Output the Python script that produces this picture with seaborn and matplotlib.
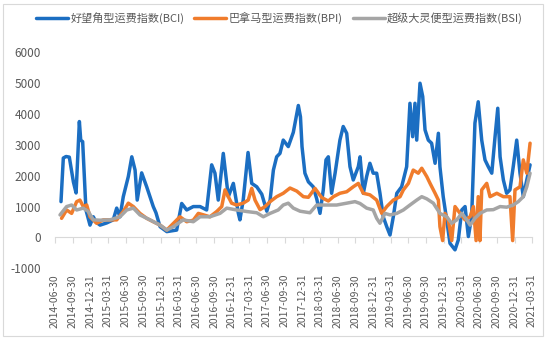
import matplotlib
matplotlib.use("Agg")
import matplotlib.pyplot as plt
import seaborn as sns
import pandas as pd
from matplotlib.patches import Rectangle
from matplotlib.lines import Line2D

# ---------------- data ----------------
bci_dates = [
    "2014-07-31", "2014-08-12", "2014-08-26", "2014-09-12", "2014-10-03", "2014-10-17",
    "2014-11-03", "2014-11-10", "2014-11-20", "2014-12-07", "2014-12-28", "2015-01-14",
    "2015-01-28", "2015-02-18", "2015-03-24", "2015-04-27", "2015-05-15", "2015-06-01",
    "2015-06-18", "2015-07-14", "2015-08-01", "2015-08-18", "2015-08-29", "2015-09-21",
    "2015-10-17", "2015-11-03", "2015-11-20", "2015-12-04", "2015-12-25", "2016-01-29",
    "2016-03-20", "2016-04-15", "2016-05-11", "2016-06-14", "2016-07-19", "2016-08-22",
    "2016-09-17", "2016-10-04", "2016-10-21", "2016-11-16", "2016-12-12", "2017-01-07",
    "2017-02-02", "2017-02-10", "2017-02-27", "2017-03-24", "2017-04-12", "2017-05-08",
    "2017-06-03", "2017-06-29", "2017-07-16", "2017-08-02", "2017-08-19", "2017-09-05",
    "2017-09-22", "2017-10-18", "2017-11-13", "2017-12-09", "2017-12-20", "2017-12-28",
    "2018-01-12", "2018-01-30", "2018-02-24", "2018-03-14", "2018-03-31", "2018-04-17",
    "2018-05-01", "2018-05-13", "2018-05-30", "2018-06-17", "2018-07-12", "2018-07-29",
    "2018-08-16", "2018-09-02", "2018-09-19", "2018-10-15", "2018-10-24", "2018-11-10",
    "2018-11-27", "2018-12-14", "2018-12-31", "2019-01-18", "2019-02-04", "2019-02-21",
    "2019-03-11", "2019-03-28", "2019-04-14", "2019-05-02", "2019-05-27", "2019-06-22",
    "2019-07-09", "2019-07-23", "2019-08-04", "2019-08-13", "2019-08-30", "2019-09-13",
    "2019-09-25", "2019-10-12", "2019-10-29", "2019-11-16", "2019-12-03", "2019-12-11",
    "2019-12-28", "2020-01-15", "2020-02-01", "2020-02-27", "2020-03-15", "2020-04-02",
    "2020-04-19", "2020-05-06", "2020-05-23", "2020-06-09", "2020-06-26", "2020-07-14",
    "2020-07-31", "2020-08-17", "2020-09-04", "2020-09-21", "2020-10-05", "2020-10-17",
    "2020-11-03", "2020-11-20", "2020-12-07", "2020-12-24", "2021-01-11", "2021-01-28",
    "2021-02-14", "2021-03-04", "2021-03-21",
]
bci_values = [
    1160, 2570, 2620, 2600, 1800, 1440,
    3750, 3150, 3100, 890, 400, 670,
    500, 400, 470, 570, 950, 670,
    1320, 1970, 2610, 2180, 1210, 2090,
    1640, 1320, 1000, 800, 350, 190,
    240, 1100, 890, 1000, 1000, 890,
    2350, 2080, 1210, 2720, 1320, 1750,
    780, 570, 1210, 2750, 1750, 1640,
    1400, 850, 1210, 2180, 2610, 2720,
    3150, 2940, 3400, 4270, 3900, 2940,
    2080, 1800, 1640, 1250, 780, 1540,
    2510, 2610, 1430, 2080, 3150, 3590,
    3370, 2290, 1860, 2290, 2610, 1430,
    1970, 2400, 2080, 2080, 1430, 670,
    350, 80, 670, 1430, 1640, 2290,
    4340, 3260, 4340, 3150, 4990, 4560,
    3480, 3150, 3050, 2400, 3370, 2290,
    1320, 570, -190, -400, -80, 890,
    1000, 30, 670, 3700, 4390, 3150,
    2510, 2290, 2080, 3260, 4180, 2610,
    1860, 1430, 1540, 2290, 3150, 2080,
    1320, 1860, 2350,
]

bpi_dates = [
    "2014-08-03", "2014-08-29", "2014-09-24", "2014-10-20", "2014-11-06", "2014-11-23",
    "2014-12-11", "2014-12-28", "2015-01-31", "2015-03-07", "2015-05-15", "2015-06-18",
    "2015-07-14", "2015-08-09", "2015-09-12", "2015-10-17", "2015-11-20", "2015-12-25",
    "2016-01-29", "2016-02-23", "2016-04-06", "2016-05-11", "2016-06-14", "2016-07-10",
    "2016-09-08", "2016-10-13", "2016-11-08", "2016-11-25", "2016-12-12", "2016-12-29",
    "2017-01-24", "2017-02-27", "2017-03-25", "2017-04-12", "2017-04-29", "2017-05-25",
    "2017-06-20", "2017-07-16", "2017-08-19", "2017-09-22", "2017-10-27", "2017-12-01",
    "2018-01-04", "2018-01-30", "2018-03-05", "2018-04-09", "2018-05-13", "2018-06-08",
    "2018-07-12", "2018-08-16", "2018-09-19", "2018-10-15", "2018-11-10", "2018-12-14",
    "2019-01-18", "2019-02-13", "2019-03-11", "2019-04-14", "2019-05-19", "2019-06-05",
    "2019-07-01", "2019-07-26", "2019-08-21", "2019-09-08", "2019-10-04", "2019-10-21",
    "2019-11-16", "2019-12-03", "2019-12-11", "2019-12-25", "2020-01-06", "2020-01-23",
    "2020-02-10", "2020-02-27", "2020-03-24", "2020-04-19", "2020-05-15", "2020-06-01",
    "2020-06-15", "2020-06-26", "2020-07-05", "2020-07-14", "2020-08-09", "2020-08-26",
    "2020-09-30", "2020-11-03", "2020-12-07", "2020-12-21", "2021-01-02", "2021-01-28",
    "2021-02-14", "2021-03-04", "2021-03-21",
]
bpi_values = [
    620, 890, 780, 1160, 1210, 1000,
    1050, 670, 460, 570, 570, 840,
    1110, 1000, 780, 620, 510, 400,
    240, 400, 670, 510, 560, 780,
    670, 840, 1000, 1540, 1320, 1110,
    1050, 1110, 1210, 1590, 1210, 900,
    1000, 1160, 1320, 1430, 1600, 1500,
    1320, 1300, 1590, 1290, 1180, 1320,
    1430, 1480, 1640, 1750, 1430, 1380,
    1210, 780, 1000, 1210, 1320, 1540,
    1750, 2180, 2080, 2240, 1970, 1750,
    1430, 1210, 350, -100, 780, 570,
    -100, 1000, 780, 570, 670, 1000,
    -100, 1320, -100, 1540, 1750, 1320,
    1430, 1320, 1320, -100, 1540, 1640,
    2510, 2080, 3050,
]

bsi_dates = [
    "2014-07-26", "2014-08-29", "2014-09-24", "2014-10-20", "2014-11-23", "2014-12-19",
    "2015-01-14", "2015-02-18", "2015-04-10", "2015-06-01", "2015-07-06", "2015-08-09",
    "2015-09-12", "2015-11-03", "2015-12-25", "2016-01-29", "2016-03-03", "2016-04-23",
    "2016-06-14", "2016-07-19", "2016-09-08", "2016-10-30", "2016-12-04", "2017-01-24",
    "2017-03-17", "2017-05-08", "2017-06-11", "2017-07-16", "2017-08-27", "2017-09-22",
    "2017-10-18", "2017-11-13", "2017-12-18", "2018-02-07", "2018-03-14", "2018-05-05",
    "2018-06-25", "2018-08-16", "2018-09-28", "2018-10-24", "2018-11-27", "2018-12-31",
    "2019-01-18", "2019-02-04", "2019-03-02", "2019-03-28", "2019-05-02", "2019-06-05",
    "2019-07-09", "2019-08-13", "2019-09-08", "2019-10-04", "2019-11-07", "2019-12-11",
    "2020-01-15", "2020-02-10", "2020-03-07", "2020-04-02", "2020-04-28", "2020-05-15",
    "2020-06-09", "2020-07-05", "2020-08-09", "2020-09-12", "2020-10-17", "2020-11-20",
    "2020-12-24", "2021-01-19", "2021-02-14", "2021-03-04", "2021-03-21",
]
bsi_values = [
    730, 1000, 1050, 890, 950, 840,
    570, 560, 570, 670, 890, 950,
    730, 570, 400, 240, 350, 570,
    510, 670, 670, 780, 950, 890,
    840, 800, 670, 780, 890, 1050,
    1110, 950, 850, 800, 1050, 1050,
    1050, 1110, 1160, 1100, 950, 890,
    620, 460, 780, 730, 780, 890,
    1050, 1210, 1320, 1250, 1110, 780,
    670, 460, 570, 780, 570, 400,
    620, 780, 890, 900, 1000, 980,
    1050, 1160, 1320, 1640, 2080,
]

series_names = ["好望角型运费指数(BCI)", "巴拿马型运费指数(BPI)", "超级大灵便型运费指数(BSI)"]
series_colors = ["#1B6EC2", "#F07C2C", "#A5A5A5"]

tick_labels = [
    "2014-06-30", "2014-09-30", "2014-12-31", "2015-03-31", "2015-06-30", "2015-09-30",
    "2015-12-31", "2016-03-31", "2016-06-30", "2016-09-30", "2016-12-31", "2017-03-31",
    "2017-06-30", "2017-09-30", "2017-12-31", "2018-03-31", "2018-06-30", "2018-09-30",
    "2018-12-31", "2019-03-31", "2019-06-30", "2019-09-30", "2019-12-31", "2020-03-31",
    "2020-06-30", "2020-09-30", "2020-12-31", "2021-03-31",
]
y_ticks = [-1000, 0, 1000, 2000, 3000, 4000, 5000, 6000]

# ---------------- build frame ----------------
frames = []
for name, d, v in zip(series_names,
                      [bci_dates, bpi_dates, bsi_dates],
                      [bci_values, bpi_values, bsi_values]):
    frames.append(pd.DataFrame({"date": pd.to_datetime(d), "value": v, "series": name}))
df = pd.concat(frames, ignore_index=True)

# ---------------- style ----------------
sns.set_theme(style="white")
plt.rcParams["font.family"] = ["Noto Sans CJK SC", "DejaVu Sans"]

fig = plt.figure(figsize=(5.5, 3.4), dpi=100)
ax = fig.add_axes([55 / 550, 1 - 268.4 / 340, (532 - 55) / 550, (268.4 - 52) / 340])

sns.lineplot(data=df, x="date", y="value", hue="series",
             palette=dict(zip(series_names, series_colors)),
             hue_order=series_names, linewidth=2.5, ax=ax, legend=False,
             estimator=None, sort=True)

ax.set_ylim(-1000, 6000)
ax.set_xlim(pd.Timestamp(tick_labels[0]), pd.Timestamp(tick_labels[-1]))
ax.set_yticks(y_ticks)
ax.set_yticklabels([str(t) for t in y_ticks])
ax.set_xticks(pd.to_datetime(tick_labels))
ax.set_xticklabels(tick_labels, rotation=90)
ax.tick_params(axis="x", length=0, pad=4, labelsize=7.5, labelcolor="#595959")
ax.tick_params(axis="y", length=0, pad=10, labelsize=8.5, labelcolor="#595959")
for lbl in ax.get_xticklabels():
    lbl.set_verticalalignment("top")
ax.set_xlabel("")
ax.set_ylabel("")
for s in ax.spines.values():
    s.set_visible(False)
ax.grid(False)

# category-style axis line at y = 0 with tick marks
zero_frac = (0 - (-1000)) / (6000 - (-1000))
sec = ax.secondary_xaxis(zero_frac)
sec.set_xticks(pd.to_datetime(tick_labels))
sec.set_xticklabels([""] * len(tick_labels))
sec.tick_params(axis="x", direction="out", length=4, width=0.8, color="#D9D9D9")
sec.spines["bottom"].set_color("#D9D9D9")
sec.spines["bottom"].set_linewidth(0.8)

# legend
handles = [Line2D([0], [0], color=c, lw=2.5) for c in series_colors]
fig.legend(handles, series_names, loc="center", bbox_to_anchor=(0.508, 0.948),
           ncol=3, frameon=False, fontsize=8, handlelength=2.9, handletextpad=0.2,
           columnspacing=0.9, labelcolor="#595959")

# outer frame
fig.patches.append(Rectangle((3 / 550, 4 / 340), 540 / 550, 332 / 340,
                             transform=fig.transFigure, fill=False,
                             edgecolor="#D9D9D9", linewidth=0.8))

fig.savefig("out.png", dpi=100, facecolor="white")
